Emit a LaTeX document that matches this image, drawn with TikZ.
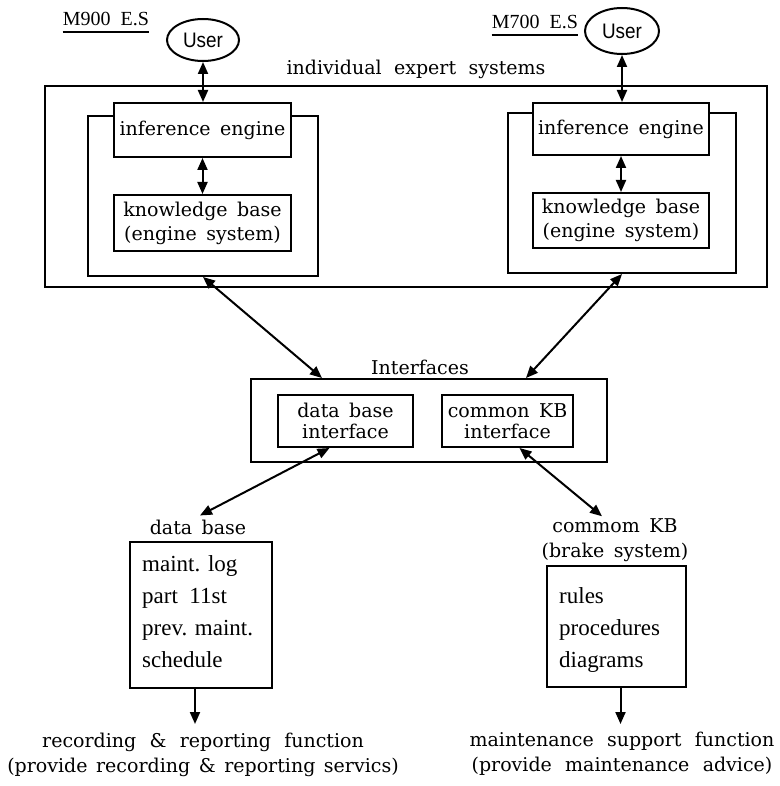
\documentclass[tikz,border=0pt]{standalone}
\usepackage{fontspec}
\newfontfamily\tms{Liberation Serif}
\newfontfamily\dvs{DejaVu Serif}
\newfontfamily\usrfont{Liberation Sans}[FakeStretch=0.9]
\usetikzlibrary{arrows.meta,shapes.geometric,calc}
\newcommand\wsA{\spaceskip=.5em\relax}
\newcommand\wsB{\spaceskip=.5em\relax}
\newcommand\wsC{\spaceskip=.7em\relax}
\newcommand\wsD{\spaceskip=.65em\relax}
\newcommand\wsE{\spaceskip=.45em\relax}
\tikzset{
  box/.style={draw, line width=2pt, fill=white, inner sep=0pt},
  lbl/.style={font={\dvs\fontsize{19}{24}\selectfont\wsA}, inner sep=0pt},
  tlbl/.style={font={\tms\fontsize{23}{32}\selectfont}, inner sep=0pt, align=left},
  hlbl/.style={font={\tms\fontsize{20}{20}\selectfont\wsB}, inner sep=0pt},
  flbl/.style={font={\dvs\fontsize{19}{25}\selectfont\wsC}, inner sep=0pt, align=center},
  usr/.style={draw, ellipse, line width=2pt, inner sep=0pt, font={\usrfont\fontsize{21}{21}\selectfont}},
  arr/.style={line width=2pt, -{Triangle[length=12pt,width=10pt]}},
  darr/.style={line width=2pt, {Triangle[length=12pt,width=10pt]}-{Triangle[length=12pt,width=10pt]}}
}
\begin{document}
\begin{tikzpicture}[x=1pt,y=-1pt]
\useasboundingbox (0,0) rectangle (779,786);
% headings
\node[hlbl] (m900) at (106,19) {M900 E.S};
\draw[line width=1.3pt] ($(m900.south west)+(0,6)$) -- ($(m900.south east)+(0,6)$);
\node[hlbl] (m700) at (535,22) {M700 E.S};
\draw[line width=1.3pt] ($(m700.south west)+(0,6)$) -- ($(m700.south east)+(0,6)$);
\node[usr, minimum width=72pt, minimum height=42pt] (luser) at (203,40) {User};
\node[usr, minimum width=74pt, minimum height=46pt] (ruser) at (622,31) {User};
\node[lbl, font={\dvs\fontsize{19}{24}\selectfont\wsD}] (ieslab) at (416,69) {individual expert systems};
% expert systems
\node[box, minimum width=722pt, minimum height=201pt] (outer) at (406,186.5) {};
\node[box, minimum width=230pt, minimum height=160pt] (lmid) at (203,196) {};
\node[box, minimum width=228pt, minimum height=160pt] (rmid) at (622,193) {};
\node[box, lbl, draw, fill=white, minimum width=177pt, minimum height=54pt] (lie) at (202.5,130) {inference engine};
\node[box, lbl, draw, fill=white, align=center, minimum width=177pt, minimum height=56pt] (lkb) at (202.5,223) {knowledge base\\(engine system)};
\node[box, lbl, draw, fill=white, minimum width=176pt, minimum height=52pt] (rie) at (621,129) {inference engine};
\node[box, lbl, draw, fill=white, align=center, minimum width=176pt, minimum height=55pt] (rkb) at (621,220.5) {knowledge base\\(engine system)};
\draw[darr] (luser.south) -- (luser.south |- lie.north);
\draw[darr] (ruser.south) -- (ruser.south |- rie.north);
\draw[darr] (lie.south) -- (lkb.north);
\draw[darr] (rie.south) -- (rkb.north);
% interfaces
\node[lbl] (ifclab) at (420,367) {Interfaces};
\node[box, minimum width=356pt, minimum height=83pt] (ifc) at (429,420.5) {};
\node[box, lbl, draw, fill=white, align=center, font={\dvs\fontsize{19}{21}\selectfont\wsA}, minimum width=135pt, minimum height=52pt] (dbi) at (345.5,421) {data base\\interface};
\node[box, lbl, draw, fill=white, align=center, font={\dvs\fontsize{19}{21}\selectfont\wsA}, minimum width=131pt, minimum height=52pt] (kbi) at (507.5,421) {common KB\\interface};
\draw[darr] (lmid.south) -- ($(ifc.north west)+(72,0)$);
\draw[darr] (rmid.south) -- ($(ifc.north east)+(-82,0)$);
% data base
\node[lbl] (dblab) at (198,527) {data base};
\node[box, minimum width=142pt, minimum height=146pt] (dbbox) at (201,615) {};
\node[tlbl, anchor=north west] (dbtxt) at ($(dbbox.north west)+(13,14)$) {maint. log\\part\ \ 11st\\prev. maint.\\schedule};
% common KB
\node[lbl, align=center, font={\dvs\fontsize{19}{25}\selectfont\wsA}] (kblab) at (615,540) {commom KB\\(brake system)};
\node[box, minimum width=139pt, minimum height=121pt] (kbbox) at (616.5,626.5) {};
\node[tlbl, anchor=north west] (kbtxt) at ($(kbbox.north west)+(13,22)$) {rules\\procedures\\diagrams};
\draw[darr] ($(dbi.south)+(-16,0)$) -- ($(dblab.north)+(2,-4)$);
\draw[darr] ($(kbi.south)+(12,0)$) -- ($(kblab.north)+(-13,-2)$);
% functions
\node[flbl] (recfn) at (203,755) {recording \& reporting function\\{\wsE(provide recording \& reporting servics)}};
\node[flbl] (mntfn) at (622,754) {maintenance support function\\(provide maintenance advice)};
\draw[arr] ($(dbbox.south)+(-6,0)$) -- ($(dbbox.south)+(-6,35)$) coordinate (dbend);
\draw[arr] ($(kbbox.south)+(4,0)$) -- ($(kbbox.south)+(4,36)$) coordinate (kbend);
\end{tikzpicture}
\end{document}
